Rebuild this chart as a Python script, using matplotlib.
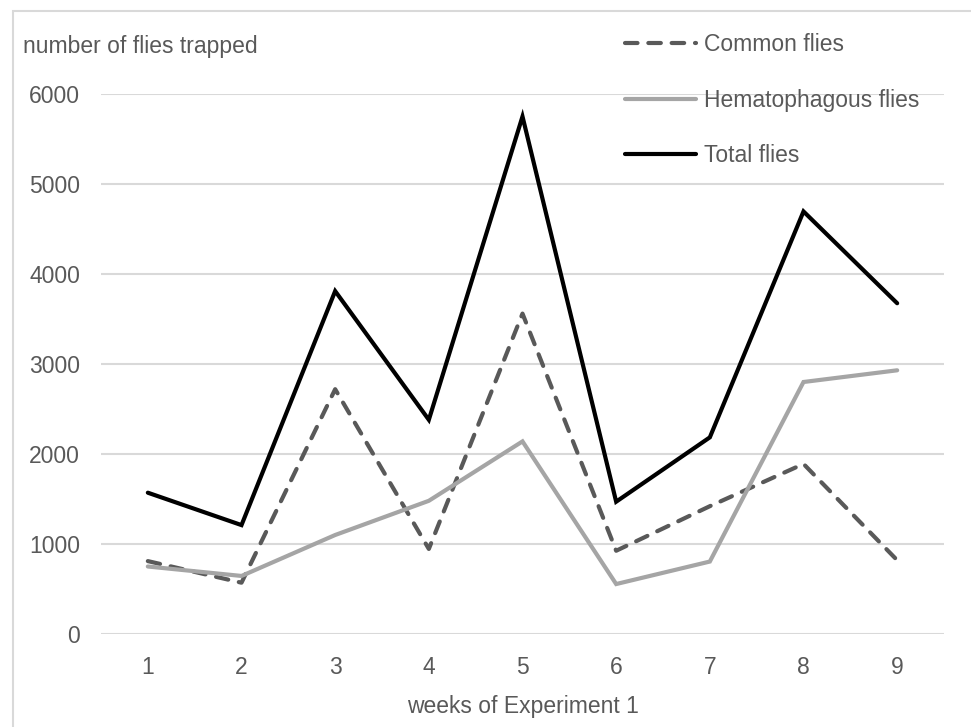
import numpy as np
import matplotlib.pyplot as plt
from matplotlib.patches import Rectangle

weeks = [1, 2, 3, 4, 5, 6, 7, 8, 9]
common_flies = [810, 570, 2720, 945, 3560, 925, 1420, 1890, 820]
hematophagous_flies = [750, 645, 1100, 1480, 2140, 555, 805, 2800, 2930]
total_flies = [1570, 1210, 3810, 2380, 5750, 1470, 2185, 4695, 3675]

plt.rcParams['font.family'] = ['Liberation Sans', 'DejaVu Sans']
fs = 16.5

W, H = 971, 727
fig = plt.figure(figsize=(W / 100, H / 100), dpi=100)
ax = fig.add_axes([101 / W, 1 - 634 / H, (944 - 101) / W, (634 - 94) / H])

# thin grey frame around the chart area
fig.patches.append(Rectangle((13 / W, -0.1), 1.2, 1 - 11 / H + 0.1,
                             transform=fig.transFigure, fill=False,
                             edgecolor='#d9d9d9', linewidth=1.5))

lw = 3.0
ax.plot(weeks, common_flies, color='#595959', linewidth=lw,
        dashes=(3.0, 2.6), dash_capstyle='round', solid_joinstyle='round',
        label='Common flies', zorder=3)
ax.plot(weeks, hematophagous_flies, color='#a5a5a5', linewidth=lw,
        solid_capstyle='round', solid_joinstyle='miter',
        label='Hematophagous flies', zorder=3)
ax.plot(weeks, total_flies, color='#000000', linewidth=lw,
        solid_capstyle='round', solid_joinstyle='miter',
        label='Total flies', zorder=4)

ax.set_xlim(0.5, 9.5)
ax.set_ylim(0, 6000)
ax.set_yticks(np.arange(0, 6001, 1000))
ax.set_xticks(weeks)
ax.grid(axis='y', color='#d9d9d9', linewidth=1.5)
ax.set_axisbelow(True)
for s in ax.spines.values():
    s.set_visible(False)
ax.tick_params(length=0, labelsize=fs, labelcolor='#595959')
ax.tick_params(axis='y', pad=15)
ax.tick_params(axis='x', pad=16)

ax.set_xlabel('weeks of Experiment 1', fontsize=fs, color='#595959', labelpad=11)
fig.text(23 / W, 1 - 46 / H, 'number of flies trapped', fontsize=fs,
         color='#595959', va='center', ha='left')

fig.legend(loc='upper left', bbox_to_anchor=(625 / W, 1 - 33 / H),
           frameon=False, fontsize=fs, labelcolor='#595959',
           handlelength=3.1, handletextpad=0.35, labelspacing=1.42,
           borderpad=0, borderaxespad=0)

fig.savefig('out.png', dpi=100, facecolor='white')
